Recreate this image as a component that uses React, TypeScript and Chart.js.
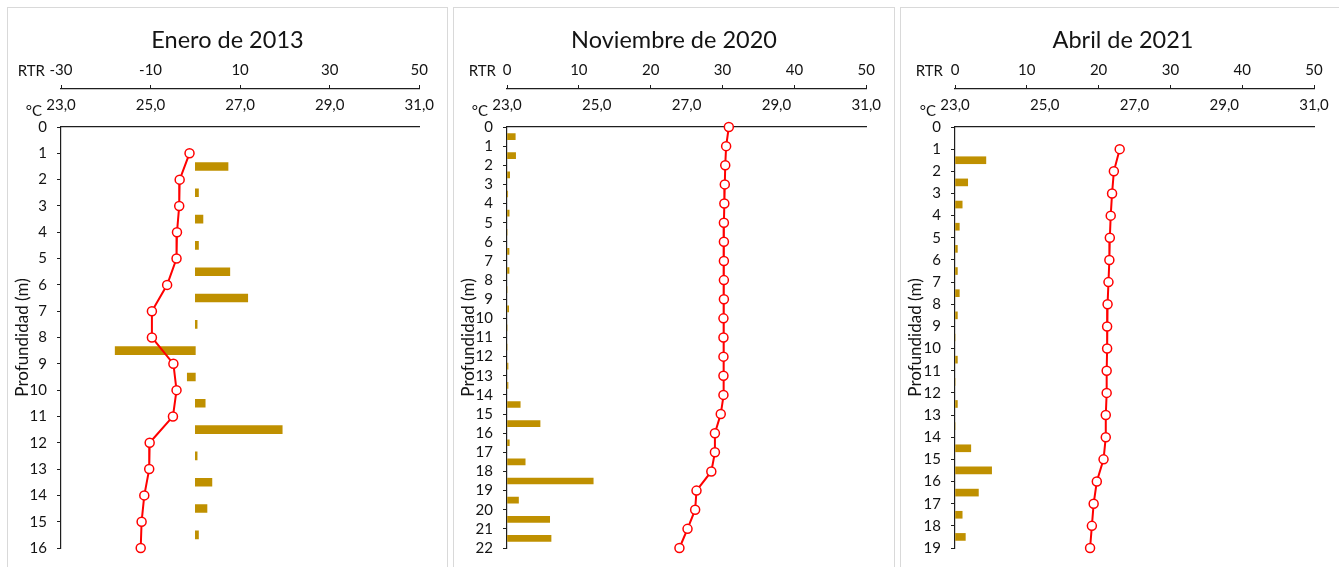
import React, { useEffect, useRef } from 'react';
import { Chart, registerables } from 'chart.js';

Chart.register(...registerables);

// ---------- DATA ----------
// Enero de 2013
const depths2013 = [1, 2, 3, 4, 5, 6, 7, 8, 9, 10, 11, 12, 13, 14, 15, 16];
const temps2013 = [25.87, 25.65, 25.64, 25.59, 25.58, 25.37, 25.03, 25.03, 25.51, 25.58, 25.5, 24.98, 24.97, 24.86, 24.8, 24.78];
const rtrDepths2013 = [1.5, 2.5, 3.5, 4.5, 5.5, 6.5, 7.5, 8.5, 9.5, 10.5, 11.5, 12.5, 13.5, 14.5, 15.5];
const rtr2013 = [7.3, 0.7, 1.7, 0.7, 7.7, 11.7, 0.4, -17.9, -1.8, 2.2, 19.4, 0.4, 3.7, 2.6, 0.7];

// Noviembre de 2020
const depths2020 = [0, 1, 2, 3, 4, 5, 6, 7, 8, 9, 10, 11, 12, 13, 14, 15, 16, 17, 18, 19, 20, 21, 22];
const temps2020 = [27.94, 27.88, 27.86, 27.85, 27.84, 27.83, 27.83, 27.83, 27.83, 27.83, 27.82, 27.82, 27.82, 27.82, 27.82, 27.76, 27.63, 27.63, 27.55, 27.22, 27.19, 27.02, 26.84];
const rtrDepths2020 = [0.5, 1.5, 2.5, 3.5, 4.5, 5.5, 6.5, 7.5, 8.5, 9.5, 10.5, 11.5, 12.5, 13.5, 14.5, 15.5, 16.5, 17.5, 18.5, 19.5, 20.5, 21.5];
const rtr2020 = [1.15, 1.2, 0.37, 0.1, 0.3, 0, 0.28, 0.28, 0, 0.23, 0, 0, 0.14, 0.14, 1.84, 4.6, 0.32, 2.53, 12.0, 1.6, 5.94, 6.13];

// Abril de 2021
const depths2021 = [1, 2, 3, 4, 5, 6, 7, 8, 9, 10, 11, 12, 13, 14, 15, 16, 17, 18, 19];
const temps2021 = [26.67, 26.54, 26.5, 26.47, 26.45, 26.44, 26.42, 26.4, 26.39, 26.39, 26.38, 26.38, 26.36, 26.36, 26.31, 26.16, 26.09, 26.05, 26.01];
const rtrDepths2021 = [1.5, 2.5, 3.5, 4.5, 5.5, 6.5, 7.5, 8.5, 9.5, 10.5, 11.5, 12.5, 13.5, 14.5, 15.5, 16.5, 17.5, 18.5];
const rtr2021 = [4.3, 1.77, 1.0, 0.6, 0.33, 0.33, 0.6, 0.33, 0, 0.33, 0, 0.33, 0, 2.2, 5.1, 3.26, 1.0, 1.44];

const titles = ['Enero de 2013', 'Noviembre de 2020', 'Abril de 2021'];
const depthMax = [16, 22, 19];
const rtrMins = [-30, 0, 0];
const rtrSteps = [20, 10, 10];
const tempMin = 23;
const tempMax = 31;
const tempStep = 2;
const rtrMax = 50;
const yTitle = 'Profundidad (m)';

// ---------- STYLE / LAYOUT ----------
const FONT = "Lato, 'Open Sans', sans-serif";
const TEXT = '#141414';
const AXIS = '#1e1e1e';
const BAR = '#BF9000';
const LINE = '#FF0000';

const layouts = [
  { panelLeft: 7, panelRight: 447, chartLeft: 61, chartRight: 421.5, chartBottom: 549, bar: 8, rtrGap: 16 },
  { panelLeft: 453, panelRight: 894, chartLeft: 507, chartRight: 868, chartBottom: 550, bar: 6, rtrGap: 11 },
  { panelLeft: 900, panelRight: 1345, chartLeft: 955, chartRight: 1314, chartBottom: 549.5, bar: 7, rtrGap: 12 },
];

const CANVAS_TOP = 8;
const CANVAS_H = 559;

function Panel({ idx }: { idx: number }) {
  const ref = useRef<HTMLCanvasElement>(null);
  const L = layouts[idx];
  const width = L.panelRight - L.panelLeft - 1;
  const canvasLeft = L.panelLeft + 1;

  useEffect(() => {
    const depths = [depths2013, depths2020, depths2021][idx];
    const temps = [temps2013, temps2020, temps2021][idx];
    const rDepths = [rtrDepths2013, rtrDepths2020, rtrDepths2021][idx];
    const rVals = [rtr2013, rtr2020, rtr2021][idx];
    const title = titles[idx];

    const yWidth = L.chartLeft - canvasLeft;
    const padRight = canvasLeft + width - L.chartRight;
    const padBottom = CANVAS_H - (L.chartBottom - CANVAS_TOP);

    const textPlugin = {
      id: 'extraText',
      afterDraw(chart: any) {
        const ctx = chart.ctx;
        const area = chart.chartArea;
        ctx.save();
        ctx.fillStyle = TEXT;
        ctx.font = `23.5px ${FONT}`;
        ctx.textAlign = 'center';
        ctx.textBaseline = 'alphabetic';
        ctx.fillText(title, chart.width / 2, 40);
        const rtr = chart.scales.rtr;
        const tmp = chart.scales.temp;
        ctx.font = `15px ${FONT}`;
        ctx.textAlign = 'right';
        ctx.textBaseline = 'middle';
        ctx.fillText('RTR', area.left - L.rtrGap, rtr.bottom - 18);
        ctx.fillText('°C', area.left - 19, tmp.bottom - 16);
        ctx.restore();
      },
    };

    const tickFont = { family: FONT, size: 15 };

    const chart = new Chart(ref.current as HTMLCanvasElement, {
      type: 'bar',
      data: {
        datasets: [
          {
            type: 'line',
            label: 'Temperatura',
            data: depths.map((d, i) => ({ x: temps[i], y: d })),
            xAxisID: 'temp',
            yAxisID: 'y',
            borderColor: LINE,
            borderWidth: 2,
            pointRadius: 4.5,
            pointBorderWidth: 1.5,
            pointBackgroundColor: '#ffffff',
            pointBorderColor: LINE,
            tension: 0,
            clip: false,
            order: 0,
          } as any,
          {
            type: 'bar',
            label: 'RTR',
            data: rDepths.map((d, i) => ({ x: rVals[i], y: d })),
            xAxisID: 'rtr',
            yAxisID: 'y',
            backgroundColor: BAR,
            borderWidth: 0,
            barThickness: L.bar,
            order: 1,
          } as any,
        ],
      },
      options: {
        indexAxis: 'y',
        responsive: false,
        animation: false,
        devicePixelRatio: 1,
        layout: { padding: { left: 0, right: padRight, top: 55, bottom: padBottom } },
        plugins: {
          legend: { display: false },
          tooltip: { enabled: false },
          title: { display: false },
        },
        scales: {
          y: {
            type: 'linear',
            position: 'left',
            reverse: true,
            min: 0,
            max: depthMax[idx],
            offset: false,
            afterFit: (s: any) => {
              s.width = yWidth;
            },
            ticks: { stepSize: 1, autoSkip: false, padding: 10, font: tickFont, color: TEXT },
            grid: { drawOnChartArea: false, offset: false, tickLength: 4, color: AXIS, lineWidth: 1 },
            border: { display: true, color: AXIS, width: 1.2 },
            title: { display: true, text: yTitle, color: TEXT, font: { family: FONT, size: 17 }, padding: { top: 4, bottom: 0 } },
          },
          temp: {
            type: 'linear',
            position: 'top',
            weight: 1,
            min: tempMin,
            max: tempMax,
            afterFit: (s: any) => {
              s.height = 38;
            },
            ticks: {
              stepSize: tempStep,
              autoSkip: false,
              maxRotation: 0,
              padding: 13,
              font: tickFont,
              color: TEXT,
              callback: (v: any) => Number(v).toFixed(1).replace('.', ','),
            },
            grid: { drawOnChartArea: false, drawTicks: false, color: AXIS },
            border: { display: true, color: AXIS, width: 1.2 },
          },
          rtr: {
            type: 'linear',
            position: 'top',
            weight: 2,
            min: rtrMins[idx],
            max: rtrMax,
            afterFit: (s: any) => {
              s.height = 26;
            },
            ticks: {
              stepSize: rtrSteps[idx],
              autoSkip: false,
              maxRotation: 0,
              padding: 6,
              font: tickFont,
              color: TEXT,
              callback: (v: any) => String(v),
            },
            grid: { drawOnChartArea: false, tickLength: 4, color: AXIS, lineWidth: 1 },
            border: { display: true, color: AXIS, width: 1.2 },
          },
        },
      } as any,
      plugins: [textPlugin],
    });
    return () => chart.destroy();
  }, [idx]);

  return (
    <div
      style={{
        position: 'absolute',
        left: L.panelLeft,
        top: 7,
        width,
        height: 580,
        borderLeft: '1px solid #d9d9d9',
        borderRight: '1px solid #d9d9d9',
        borderTop: '1px solid #d9d9d9',
        background: '#ffffff',
      }}
    >
      <canvas
        ref={ref}
        width={width}
        height={CANVAS_H}
        style={{ position: 'absolute', left: 0, top: 0, width, height: CANVAS_H }}
      />
    </div>
  );
}

export default function App() {
  return (
    <div
      style={{
        position: 'absolute',
        left: 0,
        top: 0,
        width: 1339,
        height: 567,
        overflow: 'hidden',
        background: '#ffffff',
      }}
    >
      <Panel idx={0} />
      <Panel idx={1} />
      <Panel idx={2} />
    </div>
  );
}
